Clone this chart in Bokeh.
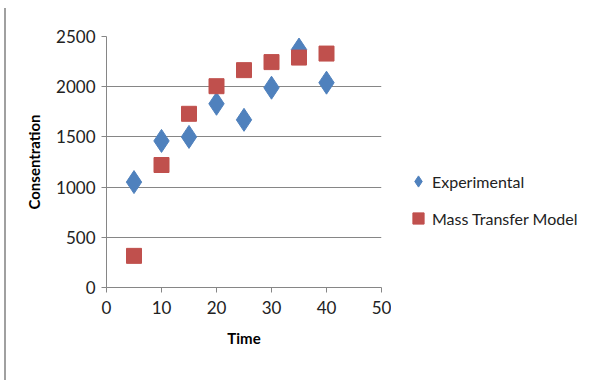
from bokeh.plotting import figure
from bokeh.models import Legend, LegendItem, Div, Range1d, SingleIntervalTicker
from bokeh.layouts import row
from bokeh.embed import file_html
from bokeh.resources import INLINE

time = [5, 10, 15, 20, 25, 30, 35, 40]
experimental = [1050, 1460, 1500, 1830, 1670, 1990, 2370, 2040]
mass_transfer_model = [315, 1220, 1730, 2005, 2165, 2245, 2290, 2330]
series_names = ["Experimental", "Mass Transfer Model"]

FONT = "Lato"
BLUE = "#4f81bd"
RED = "#c0504d"

p = figure(width=385, height=380, output_backend="svg", toolbar_location=None,
           x_range=Range1d(0, 50), y_range=Range1d(0, 2500),
           min_border_left=100, min_border_right=10, min_border_top=36, min_border_bottom=93)
p.outline_line_color = None
p.background_fill_color = "white"
p.border_fill_color = "white"

p.scatter(time, experimental, marker="diamond", size=23, fill_color=BLUE, line_color=BLUE)
p.scatter(time, mass_transfer_model, marker="square", size=15, fill_color=RED, line_color=RED)

p.xaxis.ticker = SingleIntervalTicker(interval=10)
p.yaxis.ticker = SingleIntervalTicker(interval=500)
for ax in (p.xaxis, p.yaxis):
    ax.axis_line_color = "#868686"
    ax.major_tick_line_color = "#868686"
    ax.minor_tick_line_color = None
    ax.major_tick_in = 0
    ax.major_tick_out = 5
    ax.major_label_text_font = FONT
    ax.major_label_text_font_size = "17px"
    ax.major_label_text_color = "#222222"
    ax.axis_label_text_font = FONT
    ax.axis_label_text_font_size = "15px"
    ax.axis_label_text_font_style = "bold"
    ax.axis_label_text_color = "#000000"
p.xaxis.axis_label = "Time"
p.yaxis.axis_label = "Consentration"
p.xaxis.major_label_standoff = 8
p.xaxis.axis_label_standoff = 12
p.yaxis.major_label_standoff = 6
p.yaxis.axis_label_standoff = 10

p.xgrid.grid_line_color = None
p.ygrid.grid_line_color = "#868686"
p.ygrid.grid_line_width = 1

# legend figure
lf = figure(width=201, height=380, output_backend="svg", toolbar_location=None,
            x_range=Range1d(0, 1), y_range=Range1d(0, 1),
            min_border_left=0, min_border_right=0, min_border_top=0, min_border_bottom=0)
lf.axis.visible = False
lf.grid.visible = False
lf.outline_line_color = None
lr1 = lf.scatter([-10], [-10], marker="diamond", size=18, fill_color=BLUE, line_color=BLUE)
lr2 = lf.scatter([-10], [-10], marker="square", size=14, fill_color=RED, line_color=RED)
legend = Legend(items=[LegendItem(label=series_names[0], renderers=[lr1]),
                       LegendItem(label=series_names[1], renderers=[lr2])],
                location=(13, 55), border_line_color=None, background_fill_alpha=0,
                label_text_font=FONT, label_text_font_size="16px",
                label_text_color="#222222", glyph_width=28, glyph_height=28,
                spacing=9, padding=0, margin=0, label_standoff=0)
lf.add_layout(legend, "center")

bar = Div(width=6, height=372, margin=(8, 0, 0, 0),
          styles={"border-right": "2px solid #a0a0a0"})
layout = row(bar, p, lf, spacing=0)

open("out.html", "w").write(file_html(layout, INLINE))
